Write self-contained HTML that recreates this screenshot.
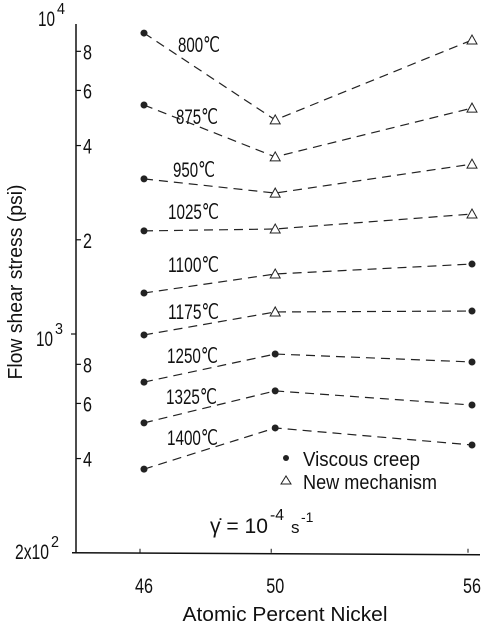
<!DOCTYPE html>
<html><head><meta charset="utf-8"><style>
body{margin:0;background:#fff}
svg{display:block}
text{font-family:"Liberation Sans",sans-serif;fill:#111;font-weight:500}
</style></head><body>
<svg id="chart" width="489" height="621" viewBox="0 0 489 621" xmlns="http://www.w3.org/2000/svg">
<g id="axes"></g>
<g id="series"></g>
<g>
<circle cx="286" cy="458" r="3" fill="#222"/>
<text x="303" y="466" font-size="20" textLength="117" lengthAdjust="spacingAndGlyphs">Viscous creep</text>
<polygon points="281,484 286,476 291,484" fill="none" stroke="#222" stroke-width="1"/>
<text x="303" y="489" font-size="20" textLength="134" lengthAdjust="spacingAndGlyphs">New mechanism</text>
</g>
<text x="210" y="533" font-size="21" textLength="58" lengthAdjust="spacingAndGlyphs">γ̇ = 10</text>
<text x="270" y="520" font-size="16" textLength="14" lengthAdjust="spacingAndGlyphs">-4</text>
<text x="291" y="533" font-size="17">s</text>
<text x="301" y="522" font-size="14">-1</text>
<text transform="translate(22,282) rotate(-90)" text-anchor="middle" font-size="20" textLength="195" lengthAdjust="spacingAndGlyphs">Flow shear stress (psi)</text>
<text x="285" y="621" text-anchor="middle" font-size="20" textLength="205" lengthAdjust="spacingAndGlyphs">Atomic Percent Nickel</text>
</svg>
<script>
const xCategories=[46,50,56];
const temps=["800","875","950","1025","1100","1175","1250","1325","1400"];
const s46=[9150,5390,3130,2135,1352,993,702,520,370];
const s50=[4830,3680,2820,2165,1555,1176,863,658,501];
const s56=[8695,5270,3490,2417,1673,1184,814,593,442];
// marker type per point: 0 = viscous creep (dot), 1 = new mechanism (triangle)
const m50=[1,1,1,1,1,1,0,0,0];
const m56=[1,1,1,1,0,0,0,0,0];
const minorTicks=[8000,6000,4000,2000,800,600,400];
const minorLabels=["8","6","4","2","8","6","4"];

const NS="http://www.w3.org/2000/svg";
const xs=v=>144+(v-46)*32.8;
const ys=v=>334-(Math.log10(v)-3)*313;
function mk(tag,attrs,parent){const e=document.createElementNS(NS,tag);for(const k in attrs)e.setAttribute(k,attrs[k]);parent.appendChild(e);return e;}
const ax=document.getElementById('axes'), sg=document.getElementById('series');

let l=mk('line',{x1:76,y1:24,x2:76,y2:ys(200),stroke:'#111','stroke-width':1.5},ax);


l=mk('line',{x1:72,y1:ys(200),x2:480,y2:ys(200)+2,stroke:'#111','stroke-width':1.5},ax);



minorTicks.forEach((v,i)=>{
  const y=ys(v);
  const t=mk('line',{x1:76,y1:y,x2:81,y2:y,stroke:'#111','stroke-width':1.2},ax);
  
  
  const tx=mk('text',{x:83,y:y+8,'font-size':21,textLength:9,lengthAdjust:'spacingAndGlyphs'},ax);
  tx.textContent=minorLabels[i];
  
  
});
function major(base,exp,y,x){
  const w=base.length*8.5;
  const tx=mk('text',{x:x,y:y+8,'font-size':21,textLength:w,lengthAdjust:'spacingAndGlyphs'},ax);tx.textContent=base;
  
  
  const e=mk('text',{x:x+w+2,y:y-4,'font-size':16,textLength:8,lengthAdjust:'spacingAndGlyphs'},ax);e.textContent=exp;
  
  
}
major("10","4",ys(10000)-3,38);
major("10","3",ys(1000)+4,36);
major("2x10","2",ys(200)-2,15);
l=mk('line',{x1:71,y1:ys(1000),x2:76,y2:ys(1000),stroke:'#111','stroke-width':1.2},ax);



xCategories.forEach(c=>{
  const x=xs(c);
  const t=mk('line',{x1:x-4,y1:ys(200)-4,x2:x-4,y2:ys(200),stroke:'#111','stroke-width':1},ax);
  
  
  const tx=mk('text',{x:x,y:ys(200)+40,'font-size':21,'text-anchor':'middle',textLength:18,lengthAdjust:'spacingAndGlyphs'},ax);
  tx.textContent=c;
  
  
});

const labelPos=[[178,52],[176,124],[173,177],[168,219],[168,272],[168,319],[167,363],[166,404],[167,445]];
function marker(type,x,y){
  let e;
  if(type){e=mk('polygon',{points:`${x-5},${y+4} ${x},${y-5} ${x+5},${y+4}`,fill:'#fff',stroke:'#222','stroke-width':1},sg);
    }
  else{e=mk('circle',{cx:x,cy:y,r:3.5,fill:'#222'},sg);
    }
  
}
temps.forEach((t,i)=>{
  const pts=[[xs(46),ys(s46[i])],[xs(50),ys(s50[i])],[xs(56),ys(s56[i])]];
  const p=mk('polyline',{points:pts.map(p=>p.join(',')).join(' '),fill:'none',stroke:'#222','stroke-width':1.2,'stroke-dasharray':'9,6'},sg);
  
  
  marker(0,pts[0][0],pts[0][1]);
  marker(m50[i],pts[1][0],pts[1][1]);
  marker(m56[i],pts[2][0],pts[2][1]);
  const lb=mk('text',{x:labelPos[i][0],y:labelPos[i][1],'font-size':21,textLength:t.length*9+15,lengthAdjust:'spacingAndGlyphs'},sg);
  lb.textContent=t+'℃';
  
  
});
</script>
</body></html>
